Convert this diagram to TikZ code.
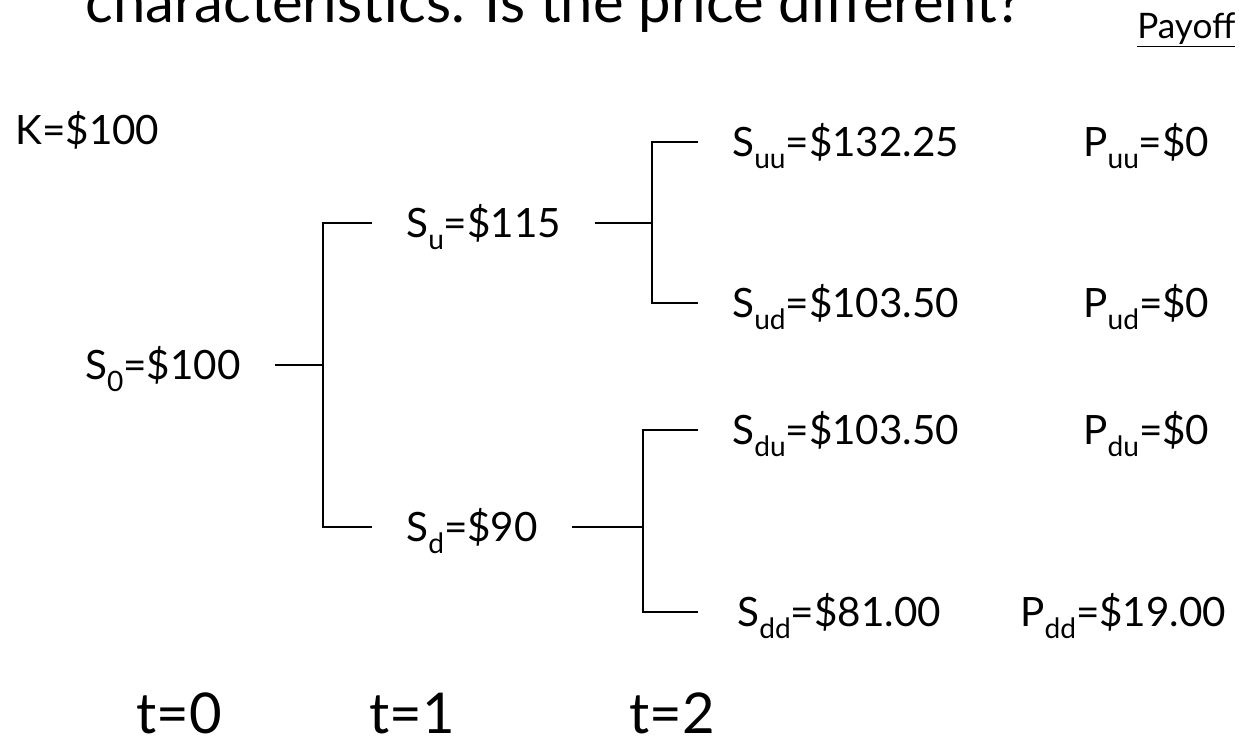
\documentclass[tikz,border=0pt]{standalone}
\usepackage{fontspec}
\setmainfont{Lato}
\usetikzlibrary{positioning}
\newcommand{\lo}[1]{\raisebox{-6.5pt}{\fontsize{16}{18}\selectfont #1}}

\begin{document}
\begin{tikzpicture}[x=0.02cm, y=-0.02cm,
  lbl/.style={font=\fontsize{23}{26}\selectfont, inner sep=0pt},
  st/.style={lbl, inner xsep=0.68cm, text height=17pt, text depth=0pt},
  pay/.style={lbl, anchor=west, text height=17pt, text depth=0pt},
  big/.style={font=\fontsize{32}{36}\selectfont, inner sep=0pt},
  ttl/.style={font=\fontsize{33}{38}\selectfont, inner sep=0pt, anchor=base west},
  ln/.style={line width=1.2pt}]

\useasboundingbox (0,0) rectangle (1259,748);
\clip (0,0) rectangle (1259,748);

% ------------------------------------------------ heading and strike
\node[ttl] (ttl) at (85,22) {characteristics. Is the price different?};
\node[font=\fontsize{20}{24}\selectfont, inner sep=0pt, anchor=base west]
  (payhd) at (1137,38) {\underline{Payoff}};
\node[lbl, anchor=base west] (k) at (15,144) {K=\$100};

% ------------------------------------------------ the tree
\coordinate (j0) at (323,365);
\coordinate (j1) at (652,223);
\coordinate (j2) at (643,527);

\node[st, anchor=east] (s0) at (275,365) {S\lo{0}=\$100};
\node[st, anchor=west] (su) at (372,223) {S\lo{u}=\$115};
\node[st, anchor=west] (sd) at (372,527) {S\lo{d}=\$90};

\node[st, anchor=west] (suu) at (698,142) {S\lo{uu}=\$132.25};
\node[st, anchor=west] (sud) at (698,303) {S\lo{ud}=\$103.50};
\node[st, anchor=west] (sdu) at (698,430) {S\lo{du}=\$103.50};
\node[st, anchor=west] (sdd) at (703,612) {S\lo{dd}=\$81.00};

\draw[ln] (s0.east) -- (j0);
\draw[ln] (su.west) -| (j0) |- (sd.west);
\draw[ln] (su.east) -- (j1);
\draw[ln] (suu.west) -| (j1) |- (sud.west);
\draw[ln] (sd.east) -- (j2);
\draw[ln] (sdu.west) -| (j2) |- (sdd.west -| suu.west);

% ------------------------------------------------ payoffs
\node[pay] (puu) at (1083,142) {P\lo{uu}=\$0};
\node[pay] (pud) at (1083,303) {P\lo{ud}=\$0};
\node[pay] (pdu) at (1083,430) {P\lo{du}=\$0};
\node[pay] (pdd) at (1020,612) {P\lo{dd}=\$19.00};

% ------------------------------------------------ time axis
\node[big, anchor=base] (t0) at (179,733) {t=0};
\node[big, anchor=base] (t1) at (412,733) {t=1};
\node[big, anchor=base] (t2) at (672,733) {t=2};

\end{tikzpicture}
\end{document}
